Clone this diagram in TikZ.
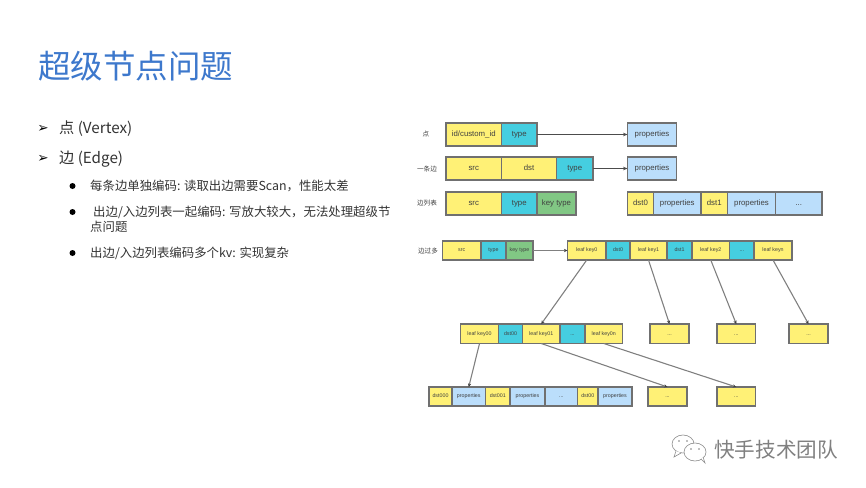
\documentclass[tikz,border=0pt]{standalone}
\usepackage{fontspec}
\setmainfont{Noto Sans CJK SC}
\newfontfamily\latinfont{Liberation Sans}
\newfontfamily\symfont{DejaVu Sans}
\usetikzlibrary{arrows.meta}
\definecolor{cy}{HTML}{FFF176}
\definecolor{cc}{HTML}{45CEE0}
\definecolor{cg}{HTML}{81C784}
\definecolor{cb}{HTML}{BBDEFB}
\definecolor{titleblue}{HTML}{3D78CC}
\definecolor{bodytext}{HTML}{333333}
\definecolor{cellline}{HTML}{707070}
\newcommand{\cell}[7]{%
  \pgfmathsetmacro{\cw}{#4-#2}\pgfmathsetmacro{\ch}{#5-#3}%
  \pgfmathsetmacro{\cx}{(#4+#2)/2}\pgfmathsetmacro{\cy}{(#5+#3)/2}%
  \node[cellbox,#6,minimum width=\cw pt,minimum height=\ch pt] (#1) at (\cx,\cy) {#7};}
\tikzset{
  cellbox/.style={draw=cellline,line width=1.1pt,inner sep=0pt,outer sep=0pt,text=black!75,text height=5.6pt,text depth=1.6pt,font=\latinfont\fontsize{7.8}{8}\selectfont},
  small/.style={text height=3.9pt,text depth=1.1pt,font=\latinfont\fontsize{5.3}{6}\selectfont},
  yel/.style={fill=cy},
  cya/.style={fill=cc},
  gre/.style={fill=cg},
  blu/.style={fill=cb},
  rowlabel/.style={inner sep=0pt,text=black!75,font=\fontsize{6.6}{8}\selectfont},
  linkdark/.style={draw=black!70,line width=.9pt,-{Stealth[length=4.5pt,width=3.6pt]}},
  linkgrey/.style={draw=black!50,line width=1.1pt,-{Stealth[length=3.5pt,width=3.2pt,color=black!75]}},
  title/.style={inner sep=0pt,anchor=west,text=titleblue,font=\fontsize{32.5}{36}\selectfont},
  lvone/.style={inner sep=0pt,anchor=west,text=bodytext,font=\fontsize{15.2}{17}\selectfont},
  lvtwo/.style={inner sep=0pt,anchor=west,text=bodytext,font=\fontsize{12.4}{14}\selectfont},
  arrowmark/.style={inner sep=0pt,text=black,font=\symfont\fontsize{13.5}{14}\selectfont},
  dotmark/.style={fill=black,draw=none,circle,minimum size=6pt,inner sep=0pt},
  wm/.style={inner sep=0pt,anchor=west,text=black!50,font=\fontsize{20.6}{24}\selectfont},
  wmline/.style={draw=black!45,line width=.6pt,fill=white}
}
\begin{document}
\begin{tikzpicture}[x=1pt,y=-1pt]
\useasboundingbox (0,0) rectangle (866,487);
% title and text
\node[title] (t) at (38,66.5) {超级节点问题};
\node[arrowmark] (a1) at (43,129) {➢};
\node[lvone] (l1) at (59,129) {点 (Vertex)};
\node[arrowmark] (a2) at (43,159) {➢};
\node[lvone] (l2) at (59,159) {边 (Edge)};
\node[dotmark] (d1) at (72.5,186) {};
\node[lvtwo] (s1) at (90,186) {每条边单独编码: 读取出边需要Scan，性能太差};
\node[dotmark] (d2) at (72.5,212) {};
\node[lvtwo] (s2) at (93,212) {出边/入边列表一起编码: 写放大较大，无法处理超级节};
\node[lvtwo] (s2b) at (90,227) {点问题};
\node[dotmark] (d3) at (72.5,253) {};
\node[lvtwo] (s3) at (90,253) {出边/入边列表编码多个kv: 实现复杂};
% row labels
\node[rowlabel] (r1) at (426,134) {点};
\node[rowlabel] (r2) at (427,169) {一条边};
\node[rowlabel] (r3) at (427,203) {边列表};
\node[rowlabel] (r4) at (428,251) {边过多};
% row 1
\cell{v1}{446}{123}{501.5}{146}{yel}{id/custom\_id}
\cell{v2}{501.5}{123}{537}{146}{cya}{type}
\cell{vp}{627.5}{123}{676.5}{146}{blu}{properties}
% row 2
\cell{e1}{446}{157}{501.5}{180}{yel}{src}
\cell{e2}{501.5}{157}{556.5}{180}{yel}{dst}
\cell{e3}{556.5}{157}{593}{180}{cya}{type}
\cell{ep}{627.5}{157}{676.5}{180}{blu}{properties}
% row 3
\cell{l1a}{446}{192}{501.5}{215}{yel}{src}
\cell{l1b}{501.5}{192}{537}{215}{cya}{type}
\cell{l1c}{537}{192}{576}{215}{gre}{key type}
\cell{l2a}{627.5}{192}{653.5}{215}{yel}{dst0}
\cell{l2b}{653.5}{192}{701}{215}{blu}{properties}
\cell{l2c}{701}{192}{727.5}{215}{yel}{dst1}
\cell{l2d}{727.5}{192}{775.5}{215}{blu}{properties}
\cell{l2e}{775.5}{192}{822}{215}{blu}{...}
% row 4
\cell{m1}{442.5}{241}{481}{260}{yel,small}{src}
\cell{m2}{481}{241}{506}{260}{cya,small}{type}
\cell{m3}{506}{241}{533}{260}{gre,small}{key type}
\cell{k0}{567.5}{241}{606}{260}{yel,small}{leaf key0}
\cell{k1}{606}{241}{630}{260}{cya,small}{dst0}
\cell{k2}{630}{241}{667}{260}{yel,small}{leaf key1}
\cell{k3}{667}{241}{692}{260}{cya,small}{dst1}
\cell{k4}{692}{241}{729.5}{260}{yel,small}{leaf key2}
\cell{k5}{729.5}{241}{754}{260}{cya,small}{...}
\cell{k6}{754}{241}{792}{260}{yel,small}{leaf keyn}
% row 5
\cell{n1}{460.5}{324}{498.5}{343.5}{yel,small}{leaf key00}
\cell{n2}{498.5}{324}{522.5}{343.5}{cya,small}{dst00}
\cell{n3}{522.5}{324}{560}{343.5}{yel,small}{leaf key01}
\cell{n4}{560}{324}{585}{343.5}{cya,small}{...}
\cell{n5}{585}{324}{622.5}{343.5}{yel,small}{leaf key0n}
\cell{b1}{650}{324}{689}{343.5}{yel,small}{...}
\cell{b2}{717}{324}{755.5}{343.5}{yel,small}{...}
\cell{b3}{789}{324}{828}{343.5}{yel,small}{...}
% row 6
\cell{p1}{429}{387}{452}{406}{yel,small}{dst000}
\cell{p2}{452}{387}{485.5}{406}{blu,small}{properties}
\cell{p3}{485.5}{387}{510}{406}{yel,small}{dst001}
\cell{p4}{510}{387}{545}{406}{blu,small}{properties}
\cell{p5}{545}{387}{577.5}{406}{blu,small}{...}
\cell{p6}{577.5}{387}{598}{406}{yel,small}{dst00}
\cell{p7}{598}{387}{632}{406}{blu,small}{properties}
\cell{c1}{648}{387}{687}{406}{yel,small}{...}
\cell{c2}{717}{387}{755.5}{406}{yel,small}{...}
% connectors
\draw[linkdark] (v2.east) -- (vp.west);
\draw[linkdark] (e3.east) -- (ep.west);
\draw[linkgrey] (m3.east) -- (k0.west);
\draw[linkgrey] (k0.south) -- (n3.north);
\draw[linkgrey] (k2.south) -- (b1.north);
\draw[linkgrey] (k4.south) -- (b2.north);
\draw[linkgrey] (k6.south) -- (b3.north);
\draw[linkgrey] (n1.south) -- (p2.north);
\draw[linkgrey] (n3.south) -- (c1.north);
\draw[linkgrey] (n5.south) -- (c2.north);
% watermark
\draw[wmline] (683,444) ellipse (11 and 9);
\draw[wmline] (676,451) -- (674,457) -- (681,453);
\draw[wmline] (695,452) ellipse (11 and 9);
\draw[wmline] (701,459) -- (705,463) -- (703,457);
\fill[black!50] (679,441) circle (.9) (687,441) circle (.9) (691,449) circle (.9) (699,449) circle (.9);
\node[wm] (w) at (714,449.5) {快手技术团队};
\end{tikzpicture}
\end{document}
